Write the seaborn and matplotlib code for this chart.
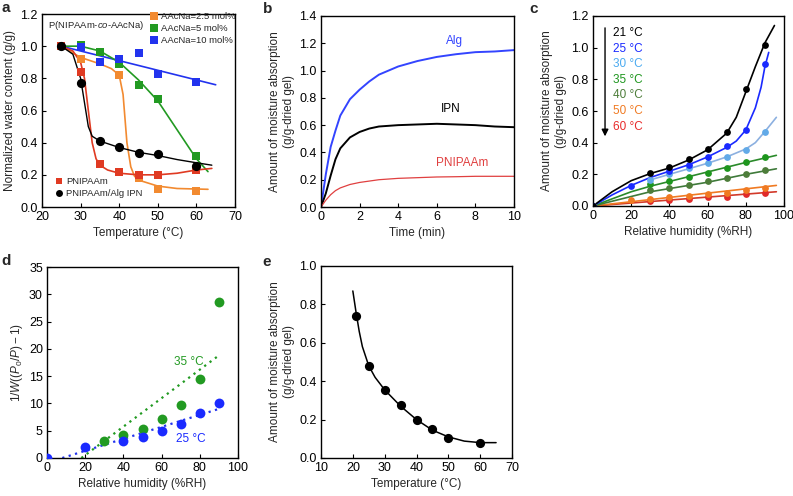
import numpy as np
import pandas as pd
import seaborn as sns
import matplotlib.pyplot as plt
from matplotlib.lines import Line2D

# ---------------- data ----------------
# panel a
a_T = [25, 30, 35, 40, 45, 50, 60]
a_pnipaam = [1.00, 0.84, 0.27, 0.22, 0.20, 0.20, 0.23]
a_ipn = [1.00, 0.77, 0.41, 0.375, 0.335, 0.33, 0.255]
a_aac25 = [1.00, 0.92, 0.90, 0.82, 0.18, 0.11, 0.10]
a_aac5 = [1.00, 1.01, 0.965, 0.89, 0.76, 0.67, 0.32]
a_aac10 = [1.00, 0.995, 0.90, 0.92, 0.96, 0.83, 0.78]
# fitted curves
a_fit_pn_x = [25, 28, 30, 31, 32, 33, 34, 35, 37, 40, 45, 50, 55, 60, 64]
a_fit_pn_y = [1.0, 0.97, 0.90, 0.80, 0.60, 0.40, 0.30, 0.26, 0.23, 0.21, 0.20, 0.20, 0.21, 0.23, 0.24]
a_fit_ipn_x = [25, 28, 30, 31, 32, 33, 35, 40, 45, 50, 55, 60, 64]
a_fit_ipn_y = [1.0, 0.95, 0.80, 0.65, 0.50, 0.44, 0.41, 0.37, 0.34, 0.32, 0.295, 0.275, 0.26]
a_fit_25_x = [25, 30, 35, 38, 40, 41, 42, 43, 44, 46, 50, 55, 63]
a_fit_25_y = [1.0, 0.93, 0.89, 0.86, 0.82, 0.70, 0.40, 0.25, 0.19, 0.16, 0.13, 0.115, 0.11]
a_fit_5_x = [25, 30, 35, 40, 45, 50, 55, 60, 63]
a_fit_5_y = [1.0, 1.0, 0.97, 0.90, 0.79, 0.66, 0.48, 0.30, 0.22]
a_fit_10_x = [25, 65]
a_fit_10_y = [1.0, 0.76]

# panel b
b_t = [0, 0.25, 0.5, 0.75, 1, 1.5, 2, 2.5, 3, 3.5, 4, 5, 6, 7, 8, 9, 10]
b_alg = [0, 0.24, 0.44, 0.56, 0.67, 0.79, 0.86, 0.92, 0.97, 1.00, 1.03, 1.07, 1.10, 1.12, 1.135, 1.14, 1.15]
b_ipn = [0, 0.10, 0.23, 0.35, 0.43, 0.51, 0.55, 0.575, 0.59, 0.595, 0.60, 0.605, 0.61, 0.605, 0.60, 0.59, 0.585]
b_pn = [0, 0.05, 0.09, 0.12, 0.14, 0.165, 0.18, 0.19, 0.20, 0.205, 0.21, 0.215, 0.22, 0.222, 0.225, 0.225, 0.225]

# panel c
c_labels = ["21 °C", "25 °C", "30 °C", "35 °C", "40 °C", "50 °C", "60 °C"]
c_x = {
    "21 °C": [0, 30, 40, 50, 60, 70, 80, 90],
    "25 °C": [0, 20, 40, 50, 60, 70, 80, 90],
    "30 °C": [0, 30, 40, 50, 60, 70, 80, 90],
    "35 °C": [0, 30, 40, 50, 60, 70, 80, 90],
    "40 °C": [0, 30, 40, 50, 60, 70, 80, 90],
    "50 °C": [0, 20, 30, 40, 50, 60, 70, 80, 90],
    "60 °C": [0, 30, 40, 50, 60, 70, 80, 90],
}
c_y = {
    "21 °C": [0, 0.21, 0.245, 0.30, 0.36, 0.465, 0.74, 1.02],
    "25 °C": [0, 0.125, 0.22, 0.26, 0.31, 0.38, 0.48, 0.90],
    "30 °C": [0, 0.165, 0.20, 0.24, 0.27, 0.31, 0.355, 0.47],
    "35 °C": [0, 0.14, 0.155, 0.185, 0.21, 0.24, 0.275, 0.31],
    "40 °C": [0, 0.10, 0.115, 0.135, 0.155, 0.18, 0.20, 0.225],
    "50 °C": [0, 0.035, 0.045, 0.055, 0.065, 0.075, 0.085, 0.10, 0.115],
    "60 °C": [0, 0.03, 0.04, 0.045, 0.055, 0.06, 0.075, 0.08],
}
c_fit_x = {
    "21 °C": [0, 10, 20, 30, 40, 50, 60, 70, 75, 80, 85, 90, 95],
    "25 °C": [0, 10, 20, 30, 40, 50, 60, 70, 75, 80, 85, 88, 90, 92],
    "30 °C": [30, 40, 50, 60, 70, 80, 85, 90, 96],
    "35 °C": [0, 20, 30, 40, 50, 60, 70, 80, 96],
    "40 °C": [0, 20, 30, 40, 60, 80, 96],
    "50 °C": [0, 96],
    "60 °C": [0, 96],
}
c_fit_y = {
    "21 °C": [0, 0.09, 0.16, 0.205, 0.24, 0.29, 0.355, 0.46, 0.56, 0.72, 0.88, 1.03, 1.14],
    "25 °C": [0, 0.07, 0.13, 0.18, 0.22, 0.26, 0.31, 0.37, 0.41, 0.48, 0.62, 0.75, 0.88, 0.97],
    "30 °C": [0.165, 0.20, 0.235, 0.27, 0.31, 0.36, 0.40, 0.47, 0.56],
    "35 °C": [0, 0.09, 0.125, 0.155, 0.185, 0.215, 0.245, 0.275, 0.32],
    "40 °C": [0, 0.06, 0.09, 0.11, 0.15, 0.20, 0.235],
    "50 °C": [0, 0.13],
    "60 °C": [0, 0.09],
}

# panel d
d_rh35 = [30, 40, 50, 60, 70, 80, 90]
d_v35 = [3.2, 4.3, 5.4, 7.1, 9.7, 14.4, 28.6]
d_rh25 = [0, 20, 40, 50, 60, 70, 80, 90]
d_v25 = [0, 2.0, 3.1, 3.9, 4.9, 6.2, 8.3, 10.0]
d_fit35_x = [18, 90]
d_fit35_y = [0, 18.8]
d_fit25_x = [8, 90]
d_fit25_y = [0, 9.0]

# panel e
e_T = [21, 25, 30, 35, 40, 45, 50, 60]
e_W = [0.74, 0.48, 0.355, 0.275, 0.20, 0.15, 0.105, 0.08]
e_fit_x = [20, 21, 22, 23, 25, 27, 30, 35, 40, 45, 50, 55, 60, 65]
e_fit_y = [0.87, 0.76, 0.66, 0.58, 0.48, 0.42, 0.355, 0.27, 0.20, 0.145, 0.11, 0.088, 0.08, 0.08]

# ---------------- style ----------------
sns.set_theme(style="ticks")
plt.rcParams['font.family'] = ['Liberation Sans', 'DejaVu Sans']
plt.rcParams['mathtext.fontset'] = 'custom'
plt.rcParams['mathtext.rm'] = 'Liberation Sans'
plt.rcParams['mathtext.it'] = 'Liberation Sans:italic'
plt.rcParams['axes.linewidth'] = 1.0
plt.rcParams['axes.edgecolor'] = 'black'

W, H = 793, 496
fig = plt.figure(figsize=(W / 100, H / 100), dpi=100)


def add_ax(x0, y0, x1, y1):
    return fig.add_axes([x0 / W, 1 - y1 / H, (x1 - x0) / W, (y1 - y0) / H])


def style(ax, xlim, ylim, xt, yt, xlabel, ylabel, yfmt="{:.1f}"):
    ax.set_xlim(*xlim)
    ax.set_ylim(*ylim)
    ax.set_xticks(xt)
    ax.set_yticks(yt)
    ax.set_yticklabels([yfmt.format(v) for v in yt])
    ax.tick_params(direction='in', length=3, width=0.8, labelsize=9, pad=3, colors='black')
    for s in ax.spines.values():
        s.set_visible(True)
        s.set_color('black')
        s.set_linewidth(1.0)
    ax.set_xlabel(xlabel, fontsize=8.5, labelpad=3)
    ax.set_ylabel(ylabel, fontsize=8.5, labelpad=3)


def pts(ax, x, y, color, marker='o', s=30, z=3):
    sns.scatterplot(x=x, y=y, ax=ax, color=color, marker=marker, s=s,
                    linewidth=0, zorder=z, legend=False)


def line(ax, x, y, color, lw=1.2, ls='-', z=2):
    sns.lineplot(x=x, y=y, ax=ax, color=color, linewidth=lw, linestyle=ls,
                 sort=False, estimator=None, zorder=z)


RED = '#e03a22'
ORANGE = '#f28a30'
GREEN = '#229a22'
BLUE = '#2233ee'

# ---------------- panel a ----------------
ax = add_ax(42, 14, 235, 207)
line(ax, a_fit_10_x, a_fit_10_y, BLUE)
line(ax, a_fit_5_x, a_fit_5_y, GREEN)
line(ax, a_fit_25_x, a_fit_25_y, ORANGE)
line(ax, a_fit_pn_x, a_fit_pn_y, RED)
line(ax, a_fit_ipn_x, a_fit_ipn_y, 'black', lw=1.0)
pts(ax, a_T, a_aac25, ORANGE, 's', 40)
pts(ax, a_T, a_aac5, GREEN, 's', 40)
pts(ax, a_T, a_aac10, BLUE, 's', 40)
pts(ax, a_T, a_pnipaam, RED, 's', 40, z=4)
pts(ax, a_T, a_ipn, 'black', 'o', 44, z=5)
style(ax, (20, 70), (0, 1.2), [20, 30, 40, 50, 60, 70], np.arange(0, 1.21, 0.2),
      "Temperature (°C)", "Normalized water content (g/g)")
ax.text(0.03, 0.975, "P(NIPAAm-$\\it{co}$-AAcNa)", transform=ax.transAxes,
        fontsize=6.8, va='top', ha='left')
h1 = [Line2D([], [], color=c, marker='s', ls='', ms=5.2, mew=0) for c in (ORANGE, GREEN, BLUE)]
leg = ax.legend(h1, ["AAcNa=2.5 mol%", "AAcNa=5 mol%", "AAcNa=10 mol%"],
                loc='upper left', bbox_to_anchor=(0.56, 1.01), frameon=False,
                fontsize=6.8, handlelength=0.8, handletextpad=0.35, labelspacing=0.32,
                borderpad=0, borderaxespad=0)
ax.add_artist(leg)
h2 = [Line2D([], [], color=RED, marker='s', ls='', ms=4.8, mew=0),
      Line2D([], [], color='black', marker='o', ls='', ms=5.0, mew=0)]
ax.legend(h2, ["PNIPAAm", "PNIPAAm/Alg IPN"], loc='lower left',
          bbox_to_anchor=(0.07, 0.045), frameon=False, fontsize=6.8,
          handlelength=0.8, handletextpad=0.35, labelspacing=0.32,
          borderpad=0, borderaxespad=0)

# ---------------- panel b ----------------
ax = add_ax(321, 16, 514, 207)
line(ax, b_t, b_alg, '#3344ff', lw=1.4)
line(ax, b_t, b_ipn, 'black', lw=1.4)
line(ax, b_t, b_pn, '#e04040', lw=0.9)
style(ax, (0, 10), (0, 1.4), [0, 2, 4, 6, 8, 10], np.arange(0, 1.41, 0.2),
      "Time (min)", "Amount of moisture absorption\n(g/g-dried gel)")
ax.xaxis.set_ticklabels(["0", "2", "4", "6", "8", "10"])
ax.text(6.9, 1.22, "Alg", color='#3344ff', fontsize=8.5, ha='center', va='center')
ax.text(6.7, 0.72, "IPN", color='black', fontsize=8.5, ha='center', va='center')
ax.text(7.3, 0.32, "PNIPAAm", color='#e04040', fontsize=8.5, ha='center', va='center')

# ---------------- panel c ----------------
ax = add_ax(593, 16, 784, 206)
c_pcol = {"21 °C": 'black', "25 °C": '#1a2aff', "30 °C": '#62aae8', "35 °C": '#1e961e',
          "40 °C": '#4d7d3a', "50 °C": '#f07a22', "60 °C": '#e02a2a'}
c_lcol = {"21 °C": 'black', "25 °C": '#1a2aff', "30 °C": '#8cb0e0', "35 °C": '#2a8a2a',
          "40 °C": '#3f7a3a', "50 °C": '#f07a22', "60 °C": '#d23a2a'}
c_tcol = {"21 °C": 'black', "25 °C": '#1a2aff', "30 °C": '#4aaaf0', "35 °C": '#1e961e',
          "40 °C": '#4d7d3a', "50 °C": '#f07a22', "60 °C": '#e82a2a'}
for lab in c_labels[::-1]:
    line(ax, c_fit_x[lab], c_fit_y[lab], c_lcol[lab], lw=1.2)
for lab in c_labels[::-1]:
    pts(ax, c_x[lab], c_y[lab], c_pcol[lab], 'o', 24)
style(ax, (0, 100), (0, 1.2), [0, 20, 40, 60, 80, 100], np.arange(0, 1.21, 0.2),
      "Relative humidity (%RH)", "Amount of moisture absorption\n(g/g-dried gel)")
for i, lab in enumerate(c_labels):
    ax.text(10.5, 1.09 - i * 0.098, lab, color=c_tcol[lab], fontsize=8.5,
            ha='left', va='center')
ax.annotate("", xy=(6.3, 0.44), xytext=(6.3, 1.125),
            arrowprops=dict(arrowstyle='-|>', color='black', lw=1.0,
                            mutation_scale=10, shrinkA=0, shrinkB=0))

# ---------------- panel d ----------------
ax = add_ax(47, 267, 238, 458)
line(ax, d_fit35_x, d_fit35_y, '#229a22', lw=1.6, ls=(0, (1, 2)))
line(ax, d_fit25_x, d_fit25_y, '#2233ee', lw=1.6, ls=(0, (1, 2)))
pts(ax, d_rh35, d_v35, '#229a22', 'o', 50)
pts(ax, d_rh25, d_v25, '#1a2aff', 'o', 50)
style(ax, (0, 100), (0, 35), [0, 20, 40, 60, 80, 100], list(range(0, 36, 5)),
      "Relative humidity (%RH)", "$1/W((P_0/P)\u22121)$", yfmt="{:d}")
ax.text(74.5, 17.6, "35 °C", color='#229a22', fontsize=8.5, ha='center', va='center')
ax.text(75.5, 3.5, "25 °C", color='#1a2aff', fontsize=8.5, ha='center', va='center')

# ---------------- panel e ----------------
ax = add_ax(321, 266, 512, 458)
line(ax, e_fit_x, e_fit_y, 'black', lw=1.1)
pts(ax, e_T, e_W, 'black', 'o', 44)
style(ax, (10, 70), (0, 1.0), [10, 20, 30, 40, 50, 60, 70], np.arange(0, 1.01, 0.2),
      "Temperature (°C)", "Amount of moisture absorption\n(g/g-dried gel)")

# panel letters
for lab, x, y in [("a", 1, 1), ("b", 263, 2), ("c", 529, 2), ("d", 1, 254), ("e", 262, 255)]:
    fig.text(x / W, 1 - y / H, lab, fontsize=11, fontweight='bold', va='top', ha='left')

fig.savefig("out.png", dpi=100)
